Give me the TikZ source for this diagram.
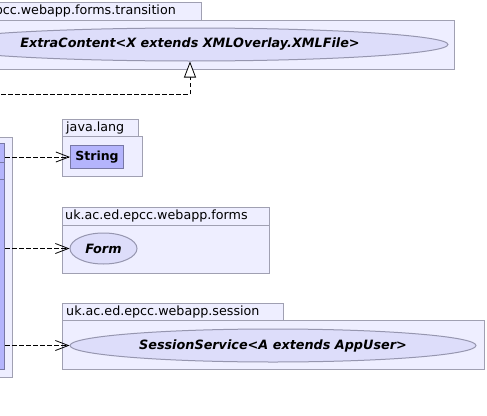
\documentclass[tikz,border=0pt]{standalone}
\usepackage{fontspec}
\setmainfont{DejaVu Sans}
\usetikzlibrary{shapes.geometric,arrows.meta}
\definecolor{pkgfill}{RGB}{238,238,255}
\definecolor{pkgline}{RGB}{160,160,178}
\definecolor{clsfill}{RGB}{180,180,252}
\definecolor{clsline}{RGB}{120,120,165}
\definecolor{ellfill}{RGB}{221,221,250}
\definecolor{ellline}{RGB}{150,150,175}
\tikzset{
  pkgbox/.style={draw=pkgline, fill=pkgfill, line width=1pt, rectangle, inner sep=0pt, anchor=north west},
  pkglabel/.style={font=\fontsize{12.7}{14}\selectfont, inner sep=0pt, anchor=west, text=black},
  clsbox/.style={draw=clsline, fill=clsfill, line width=1pt, rectangle, inner sep=0pt, anchor=north west,
    font=\fontsize{12.5}{14}\selectfont\bfseries},
  iface/.style={draw=ellline, fill=ellfill, line width=1pt, ellipse, inner sep=0pt,
    font=\fontsize{12.8}{14}\selectfont\bfseries\itshape},
  dep/.style={draw=black, line width=0.8pt, dash pattern=on 4.5pt off 2.5pt,
    -{Straight Barb[length=13pt,width=10pt,line width=0.8pt]}},
  realize/.style={draw=black, line width=0.8pt, dash pattern=on 4.5pt off 2.5pt,
    -{Triangle[open,length=16pt,width=12pt,fill=white,line width=0.8pt]}}
}
\begin{document}
\begin{tikzpicture}[x=1pt,y=-1pt]
\useasboundingbox (0,0) rectangle (487,415);
\clip (0,0) rectangle (487,415);
\fill[white] (0,0) rectangle (487,415);

% top package: uk.ac.ed.epcc.webapp.forms.transition
\node[pkgbox, minimum width=401pt, minimum height=18pt] (tpTab) at (-200,2) {};
\node[pkgbox, minimum width=654pt, minimum height=49pt] (tpBody) at (-200,20) {};
\node[pkglabel, anchor=east] (tpLabel) at (176,11) {uk.ac.ed.epcc.webapp.forms.transition};
\node[iface, minimum width=516pt, minimum height=33pt] (ec) at (190,44.5) {ExtraContent<X extends XMLOverlay.XMLFile>};

% left package and class (mostly off-picture)
\node[pkgbox, minimum width=162pt, minimum height=240pt] (lpBody) at (-150,137) {};
\node[clsbox, minimum width=144pt, minimum height=226pt] (cls) at (-140,143) {};
\draw[clsline, line width=1pt] (cls.west |- 0,162) -- (cls.east |- 0,162);
\draw[clsline, line width=1pt] (cls.west |- 0,179) -- (cls.east |- 0,179);

% java.lang
\node[pkgbox, minimum width=76pt, minimum height=17pt] (jlTab) at (62,119) {};
\node[pkgbox, minimum width=80pt, minimum height=40pt] (jlBody) at (62,136) {};
\node[pkglabel] (jlLabel) at (66,127.5) {java.lang};
\node[clsbox, minimum width=53pt, minimum height=23pt] (str) at (70,145) {String};

% uk.ac.ed.epcc.webapp.forms
\node[pkgbox, minimum width=207pt, minimum height=18pt] (fmTab) at (62,207) {};
\node[pkgbox, minimum width=207pt, minimum height=48pt] (fmBody) at (62,225) {};
\node[pkglabel] (fmLabel) at (65,216) {uk.ac.ed.epcc.webapp.forms};
\node[iface, minimum width=67pt, minimum height=31pt] (form) at (103.5,248.5) {Form};

% uk.ac.ed.epcc.webapp.session
\node[pkgbox, minimum width=221pt, minimum height=17pt] (ssTab) at (62,303) {};
\node[pkgbox, minimum width=422pt, minimum height=49pt] (ssBody) at (62,320) {};
\node[pkglabel] (ssLabel) at (66,311.5) {uk.ac.ed.epcc.webapp.session};
\node[iface, minimum width=406pt, minimum height=33pt] (ss) at (273,345.5) {SessionService<A extends AppUser>};

% connectors
\coordinate (rsrc) at (-20,94);
\draw[realize] (rsrc) -| (ec.south);
\draw[dep] (cls.east |- str.west) -- (str.west);
\draw[dep] (cls.east |- form.west) -- (form.west);
\draw[dep] (cls.east |- ss.west) -- (ss.west);
\end{tikzpicture}
\end{document}
